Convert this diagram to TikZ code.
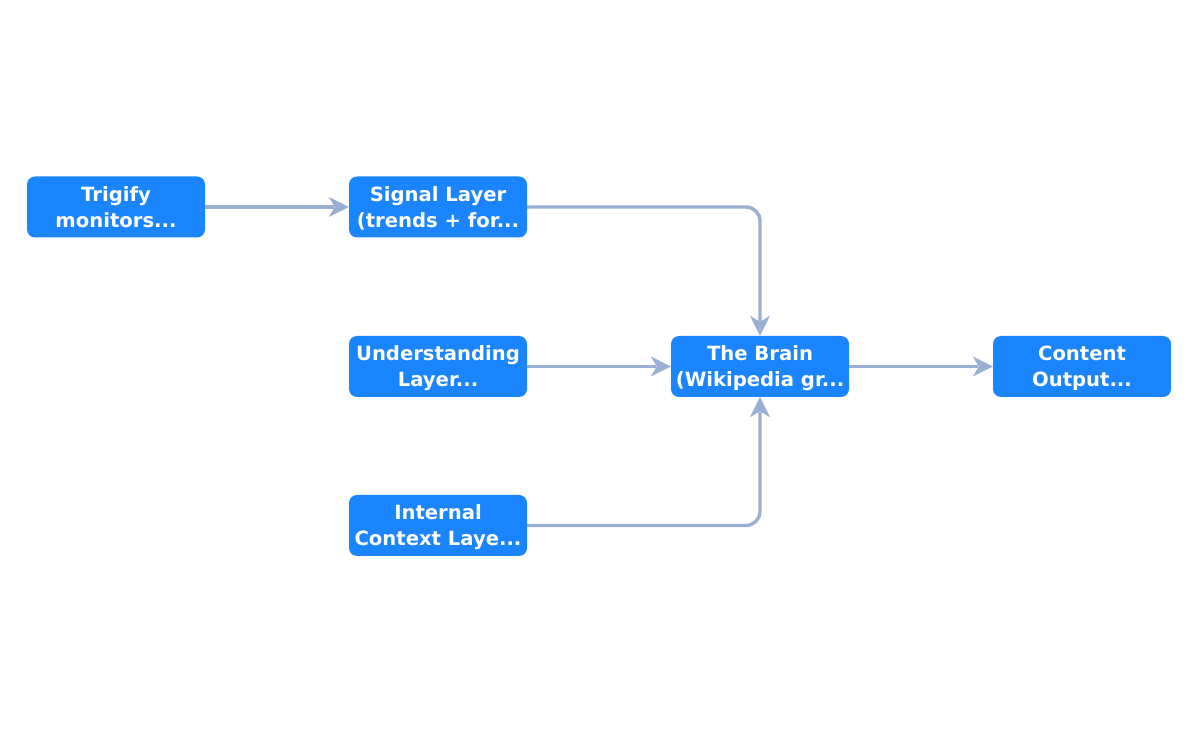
\documentclass[tikz,border=0pt]{standalone}
\usepackage{fontspec}
\setmainfont{DejaVu Sans}
\definecolor{boxblue}{HTML}{1A85FF}
\definecolor{linkgray}{HTML}{9AAFD4}
\begin{document}
\begin{tikzpicture}[x=1pt,y=1pt,
  flowbox/.style={draw=none, fill=boxblue, rounded corners=8pt,
    minimum width=178pt, minimum height=61pt, inner sep=0pt,
    text=white, align=center, text depth=0pt,
    font=\fontsize{19.6pt}{26pt}\selectfont\bfseries},
  link/.style={draw=linkgray, line width=3.4pt},
  head/.pic={\fill[linkgray] (0,0) -- (-20,10) -- (-14,0) -- (-20,-10) -- cycle;}]
  \useasboundingbox (0,0) rectangle (1199,733);
  \node[flowbox] (trig)  at (116,526)    {Trigify\\monitors...};
  \node[flowbox] (sig)   at (438,526)    {Signal Layer\\(trends + for...};
  \node[flowbox] (und)   at (438,366.5)  {Understanding\\Layer...};
  \node[flowbox] (ctx)   at (438,207.5)  {Internal\\Context Laye...};
  \node[flowbox] (brain) at (760,366.5)  {The Brain\\(Wikipedia gr...};
  \node[flowbox] (out)   at (1082,366.5) {Content\\Output...};
  % connectors
  \draw[link] (trig.east) -- ([xshift=-15pt]sig.west);
  \draw[link, rounded corners=14pt] (sig.east) -| ([yshift=15pt]brain.north);
  \draw[link] (und.east) -- ([xshift=-15pt]brain.west);
  \draw[link, rounded corners=14pt] (ctx.east) -| ([yshift=-15pt]brain.south);
  \draw[link] (brain.east) -- ([xshift=-15pt]out.west);
  % arrow heads
  \pic at (sig.west) {head};
  \pic[rotate=-90] at (brain.north) {head};
  \pic at (brain.west) {head};
  \pic[rotate=90] at (brain.south) {head};
  \pic at (out.west) {head};
\end{tikzpicture}
\end{document}
